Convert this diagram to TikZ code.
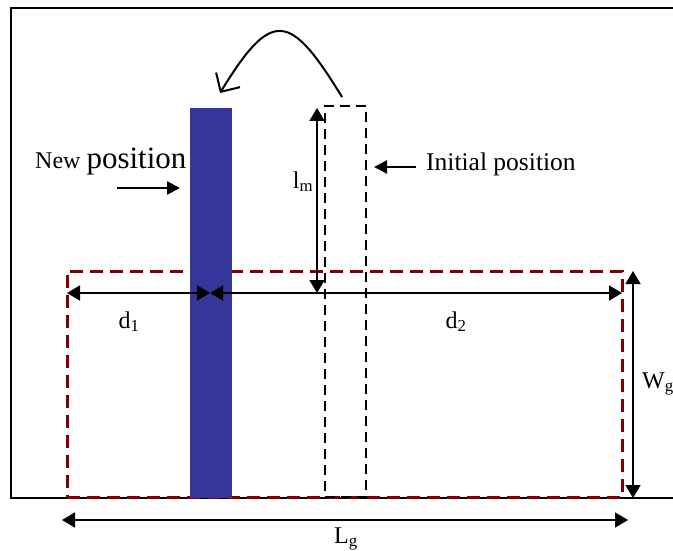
\documentclass[tikz,border=0pt]{standalone}
\usepackage{fontspec}
\setmainfont{Liberation Serif}
\usetikzlibrary{arrows.meta}
\definecolor{barblue}{RGB}{53,53,154}
\definecolor{dred}{RGB}{128,0,0}
\begin{document}
\begin{tikzpicture}[x=1pt,y=-1pt,
  frame/.style={line width=2pt},
  redbox/.style={draw=dred, line width=3pt, dash pattern=on 13pt off 7pt, inner sep=0pt, outer sep=0pt, anchor=north west},
  bluebar/.style={fill=barblue, inner sep=0pt, outer sep=0pt, anchor=north west},
  oldbar/.style={draw=black, line width=1.5pt, dash pattern=on 10pt off 6pt, inner sep=0pt, outer sep=0pt, anchor=north west},
  dim/.style={line width=1.8pt, {Triangle[length=13pt,width=15pt]}-{Triangle[length=13pt,width=15pt]}},
  pointer/.style={line width=2.2pt, -{Triangle[length=13pt,width=13pt]}},
  movearrow/.style={line width=2pt, -{Straight Barb[length=14pt,width=28pt,line width=2pt]}},
  lbl/.style={inner sep=0pt, font=\fontsize{24}{27}\selectfont},
  txt/.style={inner sep=0pt, font=\fontsize{25.5}{28}\selectfont}]
\useasboundingbox (0,0) rectangle (673,551);
\fill[white] (0,0) rectangle (673,551);
% frame (right side is outside the picture)
\draw[frame] (700,8) -- (11,8) -- (11,498) -- (700,498);
% ground region
\node[redbox, minimum width=555pt, minimum height=226pt] (ground) at (67,271) {};
% initial (dashed) and new (blue) positions
\node[oldbar, minimum width=41pt, minimum height=391pt] (ini) at (325,106) {};
\node[bluebar, minimum width=42pt, minimum height=390pt] (new) at (190,108) {};
% coordinates for dimension arrows
\coordinate (lmtop) at (317,108);
\coordinate (lmbot) at (317,293);
\coordinate (dleft) at (67,293);
\coordinate (dmid) at (210,293);
\coordinate (dright) at (622,293);
\coordinate (wtop) at (633,271);
\coordinate (wbot) at (633,498);
\coordinate (lleft) at (62,520);
\coordinate (lright) at (628,520);
\draw[dim] (lmtop) -- (lmbot);
\draw[dim] (dleft) -- (dmid);
\draw[dim] (dmid) -- (dright);
\draw[dim] (wtop) -- (wbot);
\draw[dim] (lleft) -- (lright);
% labels
\node[lbl, anchor=base] (lm) at (303,188) {l\textsubscript{m}};
\node[lbl, anchor=base] (d1) at (129,328) {d\textsubscript{1}};
\node[lbl, anchor=base] (d2) at (456,328) {d\textsubscript{2}};
\node[lbl, anchor=base west] (wg) at (642,388) {W\textsubscript{g}};
\node[lbl, anchor=base] (lg) at (346,543) {L\textsubscript{g}};
% position texts
\node[txt, anchor=base west] (initxt) at (426,171) {Initial position};
\coordinate (inistart) at (416,167);
\coordinate (iniend) at (374,167);
\draw[pointer] (inistart) -- (iniend);
\node[inner sep=0pt, anchor=base west] (newtxt) at (35,168) {\fontsize{24}{28}\selectfont New \fontsize{31}{34}\selectfont position};
\coordinate (newstart) at (117,188);
\coordinate (newend) at (180,188);
\draw[pointer] (newstart) -- (newend);
% moving arrow
\coordinate (mvstart) at (342,97);
\coordinate (mvend) at (220,93);
\draw[movearrow] (mvstart) .. controls (290,12) and (272,8) .. (mvend);
\end{tikzpicture}
\end{document}
